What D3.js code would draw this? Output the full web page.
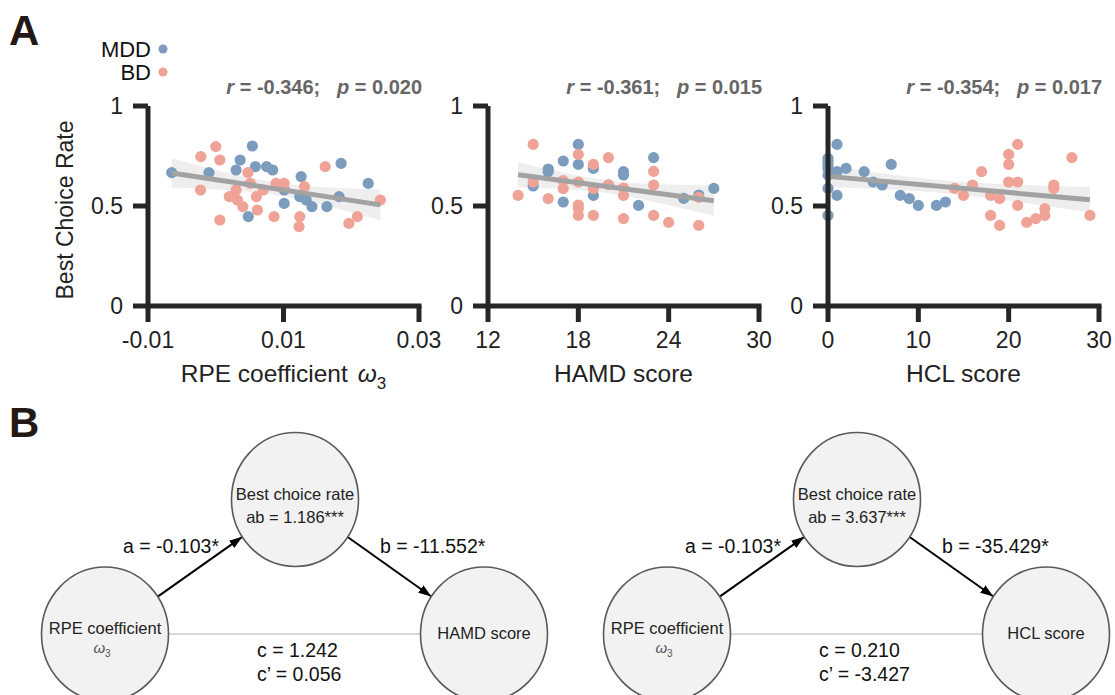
<!DOCTYPE html>
<html>
<head>
<meta charset="utf-8">
<script src="https://d3js.org/d3.v7.min.js"></script>
<style>
    body { margin: 0; background: #fff; }
    text { font-family: Arial, "Liberation Sans", sans-serif; }
    .tick-label { font-size: 23px; fill: #222; }
    .axis-title { font-size: 24.5px; fill: #222; }
    .stat { font-size: 20px; font-weight: bold; fill: #666; white-space: pre; }
    .node-text { font-size: 16.5px; fill: #222; }
    .path-label { font-size: 19.5px; fill: #111; }
</style>
</head>
<body>
<svg id="fig" width="1115" height="695"></svg>
<script>
    // ---- data ----
    const rpeMDD = [[-0.0065,0.667],[-0.001,0.667],[0.0054,0.80],[0.0036,0.73],[0.003,0.68],[0.00585,0.697],
        [0.0075,0.697],[0.0084,0.68],[0.0048,0.447],[0.0101,0.58],[0.0101,0.513],[0.0126,0.647],[0.0124,0.547],
        [0.01335,0.53],[0.0142,0.497],[0.0164,0.497],[0.0182,0.547],[0.0185,0.713],[0.0225,0.613]];
    const rpeBD = [[0.000,0.797],[-0.0022,0.747],[0.0006,0.73],[-0.00225,0.58],[0.0006,0.43],[0.00475,0.667],
        [0.0051,0.613],[0.003,0.58],[0.002,0.547],[0.0032,0.53],[0.004,0.497],[0.006,0.547],[0.00615,0.48],
        [0.007,0.58],[0.0086,0.447],[0.0089,0.613],[0.0101,0.613],[0.0131,0.597],[0.0124,0.447],[0.0123,0.397],
        [0.01615,0.697],[0.01965,0.413],[0.0209,0.447],[0.0243,0.53]];

    const hamdMDD = [[15,0.60],[16,0.685],[16,0.672],[17,0.725],[17,0.52],[18,0.808],[18,0.708],[19,0.688],
        [19,0.553],[21,0.672],[21,0.655],[22,0.503],[23,0.742],[25,0.538],[26,0.555],[27,0.588]];
    const hamdBD = [[15,0.808],[14,0.553],[15,0.62],[16,0.537],[17,0.627],[17,0.587],[18,0.758],[18,0.62],
        [18,0.505],[18,0.488],[18,0.453],[19,0.708],[19,0.587],[19,0.453],[20,0.742],[20,0.607],[21,0.59],
        [21,0.553],[21,0.437],[23,0.673],[23,0.605],[23,0.453],[24,0.418],[26,0.543],[26,0.403]];

    const hclMDD = [[0,0.738],[0,0.722],[0,0.705],[0,0.688],[0,0.655],[0,0.588],[0,0.453],[1,0.808],[1,0.672],
        [1,0.553],[2,0.688],[4,0.672],[5,0.62],[6,0.605],[7,0.708],[8,0.553],[9,0.537],[10,0.503],[12,0.503],[13,0.52]];
    const hclBD = [[14,0.588],[15,0.553],[16,0.605],[17,0.672],[18,0.553],[18,0.453],[19,0.537],[19,0.403],
        [20,0.758],[20,0.708],[20,0.62],[21,0.808],[21,0.62],[21,0.503],[22,0.418],[23,0.437],[24,0.487],
        [24,0.453],[25,0.605],[25,0.588],[27,0.742],[29,0.453]];

    const xDomains = [[-0.01, 0.03], [12, 30], [0, 30]];
    const xTicks = [[-0.01, 0.01, 0.03], [12, 18, 24, 30], [0, 10, 20, 30]];
    const xTitles = ['RPE coefficient', 'HAMD score', 'HCL score'];
    const rValues = ['-0.346', '-0.361', '-0.354'];
    const pValues = ['0.020', '0.015', '0.017'];
    const yTicks = [0, 0.5, 1];

    const groups = ['MDD', 'BD'];
    const colors = { MDD: '#7b9cbd', BD: '#efa396' };

    // mediation diagrams
    const predictorName = 'RPE coefficient';
    const mediatorName = 'Best choice rate';
    const outcomeNames = ['HAMD score', 'HCL score'];
    const abValues = ['1.186***', '3.637***'];
    const aValues = ['-0.103*', '-0.103*'];
    const bValues = ['-11.552*', '-35.429*'];
    const cValues = ['1.242', '0.210'];
    const cPrimeValues = ['0.056', '-3.427'];

    const svg = d3.select('#fig');
    const ink = '#262626';
    const fmt = v => d3.format('~g')(v).replace('\u2212', '-');

    // panel labels
    svg.append('text').attr('x', 9).attr('y', 45).attr('font-size', 42).attr('font-weight', 'bold')
        .attr('fill', '#231815').text('A');
    svg.append('text').attr('x', 9).attr('y', 437).attr('font-size', 42).attr('font-weight', 'bold')
        .attr('fill', '#231815').text('B');

    // legend
    groups.forEach((g, i) => {
        svg.append('text').attr('x', 151).attr('y', 57 + i * 23).attr('text-anchor', 'end')
            .attr('font-size', 22).attr('fill', '#111').text(g);
        svg.append('circle').attr('cx', 163).attr('cy', 49 + i * 23).attr('r', 4.5).attr('fill', colors[g]);
    });

    // y title
    svg.append('text').attr('class', 'axis-title').attr('font-size', 23)
        .attr('transform', 'translate(73,210) rotate(-90)')
        .attr('text-anchor', 'middle').style('font-size', '23px').text('Best Choice Rate');

    const panels = [[rpeMDD, rpeBD], [hamdMDD, hamdBD], [hclMDD, hclBD]];
    const panelLeft = [148, 488, 828];
    const panelW = 271;
    const y = d3.scaleLinear().domain([0, 1]).range([306, 106]);

    function fit(points) {
        const n = points.length;
        const mx = d3.mean(points, d => d[0]);
        const my = d3.mean(points, d => d[1]);
        const sxx = d3.sum(points, d => (d[0] - mx) ** 2);
        const sxy = d3.sum(points, d => (d[0] - mx) * (d[1] - my));
        const slope = sxy / sxx;
        const icpt = my - slope * mx;
        const sse = d3.sum(points, d => (d[1] - icpt - slope * d[0]) ** 2);
        const s = Math.sqrt(sse / (n - 2));
        return { slope, icpt, s, n, mx, sxx };
    }

    panels.forEach((pair, i) => {
        const x = d3.scaleLinear().domain(xDomains[i]).range([panelLeft[i], panelLeft[i] + panelW]);
        const g = svg.append('g');
        const all = pair[0].concat(pair[1]);
        const f = fit(all);
        const ext = d3.extent(all, d => d[0]);
        const xs = d3.range(0, 51).map(k => ext[0] + (ext[1] - ext[0]) * k / 50);
        const t = 2.02;
        const band = xs.map(v => {
            const yh = f.icpt + f.slope * v;
            const se = f.s * Math.sqrt(1 / f.n + (v - f.mx) ** 2 / f.sxx);
            return [v, yh - t * se, yh + t * se];
        });

        g.append('path').datum(band)
            .attr('fill', '#ececec').attr('opacity', 0.9)
            .attr('d', d3.area().x(d => x(d[0])).y0(d => y(d[1])).y1(d => y(d[2])));

        groups.forEach((name, k) => {
            g.selectAll('circle.' + name).data(pair[k]).join('circle')
                .attr('class', name)
                .attr('cx', d => x(d[0])).attr('cy', d => y(d[1]))
                .attr('r', 5.6).attr('fill', colors[name]);
        });

        g.append('path').datum(ext)
            .attr('fill', 'none').attr('stroke', '#a2a2a2').attr('stroke-width', 5)
            .attr('d', d3.line().x(d => x(d)).y(d => y(f.icpt + f.slope * d)));

        // axes
        const x0 = panelLeft[i];
        g.append('line').attr('x1', x0).attr('x2', x0).attr('y1', y(1)).attr('y2', y(0) + 2.5)
            .attr('stroke', ink).attr('stroke-width', 5);
        g.append('line').attr('x1', x0).attr('x2', x(xDomains[i][1]) + 2.5).attr('y1', y(0)).attr('y2', y(0))
            .attr('stroke', ink).attr('stroke-width', 5);

        g.selectAll('line.ytick').data(yTicks).join('line').attr('class', 'ytick')
            .attr('x1', x0 - 15).attr('x2', x0).attr('y1', d => y(d)).attr('y2', d => y(d))
            .attr('stroke', ink).attr('stroke-width', 5);
        g.selectAll('text.ylab').data(yTicks).join('text').attr('class', 'ylab tick-label')
            .attr('x', x0 - 25).attr('y', d => y(d) + 8).attr('text-anchor', 'end')
            .text(fmt);

        g.selectAll('line.xtick').data(xTicks[i]).join('line').attr('class', 'xtick')
            .attr('x1', d => x(d)).attr('x2', d => x(d)).attr('y1', y(0)).attr('y2', y(0) + 16)
            .attr('stroke', ink).attr('stroke-width', 5);
        g.selectAll('text.xlab').data(xTicks[i]).join('text').attr('class', 'xlab tick-label')
            .attr('x', d => x(d)).attr('y', 348).attr('text-anchor', 'middle')
            .text(fmt);

        const title = g.append('text').attr('class', 'axis-title')
            .attr('x', x0 + panelW / 2).attr('y', 382).attr('text-anchor', 'middle');
        title.append('tspan').text(xTitles[i]);
        if (i === 0) {
            title.append('tspan').attr('dx', 10).attr('font-style', 'italic').text('ω');
            title.append('tspan').attr('font-size', 17).attr('dy', 7).text('3');
        }

        const st = g.append('text').attr('class', 'stat')
            .attr('x', x0 + panelW + 3).attr('y', 94).attr('text-anchor', 'end');
        st.append('tspan').attr('font-style', 'italic').text('r');
        st.append('tspan').text(' = ' + rValues[i] + ';   ');
        st.append('tspan').attr('font-style', 'italic').text('p');
        st.append('tspan').text(' = ' + pValues[i]);
    });

    // ---- panel B: mediation diagrams ----
    svg.append('defs').append('marker')
        .attr('id', 'arrow').attr('viewBox', '0 0 10 10').attr('refX', 10).attr('refY', 5)
        .attr('markerWidth', 13).attr('markerHeight', 13).attr('markerUnits', 'userSpaceOnUse')
        .attr('orient', 'auto')
        .append('path').attr('d', 'M0,1.5 L10,5 L0,8.5 Z').attr('fill', '#000');

    const rx = 63.5, ry = 67;
    function edge(from, to) {
        const dx = to[0] - from[0], dy = to[1] - from[1];
        const len = Math.hypot(dx, dy);
        const ux = dx / len, uy = dy / len;
        const k = 1 / Math.sqrt((ux / rx) ** 2 + (uy / ry) ** 2);
        return [from[0] + ux * k, from[1] + uy * k];
    }

    outcomeNames.forEach((outName, i) => {
        const off = i * 562;
        const pred = [105 + off, 634];
        const med = [295 + off, 499.5];
        const out = [484 + off, 634];
        const g = svg.append('g');

        g.append('line').attr('x1', pred[0] + rx).attr('x2', out[0] - rx).attr('y1', 634).attr('y2', 634)
            .attr('stroke', '#b3b3b3').attr('stroke-width', 1.2);

        [[pred, med], [med, out]].forEach(([p, q]) => {
            const s = edge(p, q), e = edge(q, p);
            g.append('line').attr('x1', s[0]).attr('y1', s[1]).attr('x2', e[0]).attr('y2', e[1])
                .attr('stroke', '#000').attr('stroke-width', 2).attr('marker-end', 'url(#arrow)');
        });

        [pred, med, out].forEach(c => {
            g.append('ellipse').attr('cx', c[0]).attr('cy', c[1]).attr('rx', rx).attr('ry', ry)
                .attr('fill', '#f2f2f2').attr('stroke', '#5a5a5a').attr('stroke-width', 1.6);
        });

        g.append('text').attr('class', 'node-text').attr('x', med[0]).attr('y', 500)
            .attr('text-anchor', 'middle').text(mediatorName);
        g.append('text').attr('class', 'node-text').attr('x', med[0]).attr('y', 523)
            .attr('text-anchor', 'middle').text('ab = ' + abValues[i]);

        g.append('text').attr('class', 'node-text').attr('x', pred[0]).attr('y', 634)
            .attr('text-anchor', 'middle').attr('fill', '#333').text(predictorName);
        const om = g.append('text').attr('x', pred[0] - 3).attr('y', 653).attr('text-anchor', 'middle')
            .attr('fill', '#555').attr('font-size', 15);
        om.append('tspan').attr('font-style', 'italic').text('ω');
        om.append('tspan').attr('font-size', 10).attr('dy', 4).text('3');

        g.append('text').attr('class', 'node-text').attr('x', out[0]).attr('y', 639)
            .attr('text-anchor', 'middle').text(outName);

        g.append('text').attr('class', 'path-label').attr('x', 171 + off).attr('y', 553)
            .attr('text-anchor', 'middle').text('a = ' + aValues[i]);
        g.append('text').attr('class', 'path-label').attr('x', 380 + off).attr('y', 553)
            .text('b = ' + bValues[i]);
        g.append('text').attr('class', 'path-label').attr('x', 257 + off).attr('y', 657)
            .text('c = ' + cValues[i]);
        g.append('text').attr('class', 'path-label').attr('x', 257 + off).attr('y', 681)
            .text('c\u2019 = ' + cPrimeValues[i]);
    });
</script>
</body>
</html>
